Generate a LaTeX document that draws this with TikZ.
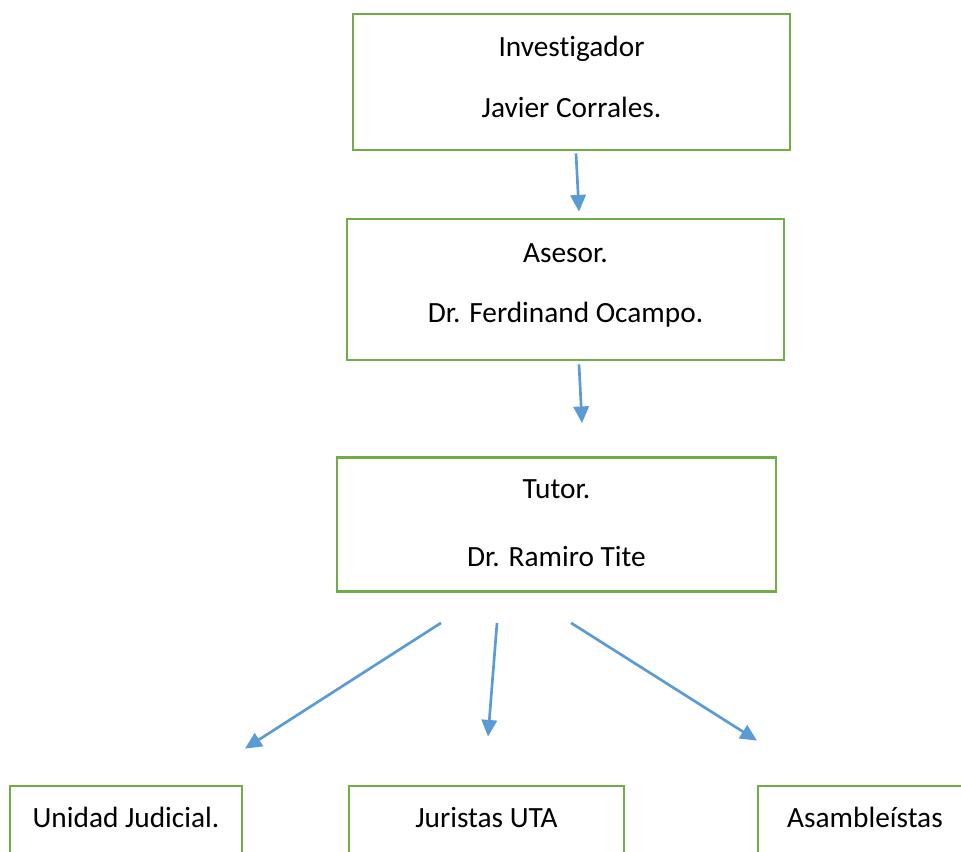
\documentclass[tikz,border=0pt]{standalone}
\usepackage{fontspec}
\setmainfont{Carlito}[Ligatures=NoCommon]
\usepackage{tikz}
\usetikzlibrary{arrows.meta, calc}

\definecolor{boxgreen}{RGB}{112,173,71}
\definecolor{arrowblue}{RGB}{91,155,213}

\begin{document}
\begin{tikzpicture}[
    x=0.75pt, y=-0.75pt,
    box/.style={rectangle, draw=boxgreen, line width=2.1pt, minimum width=327.75pt, minimum height=102pt, align=center, inner sep=0pt, font=\fontsize{22}{26}\selectfont},
    smallbox/.style={box, minimum height=102pt},
    arrow/.style={-{Triangle[length=12.5pt, width=11.5pt]}, draw=arrowblue, line width=2pt}
]
    \clip (0,0) rectangle (961,852);

    % chain of boxes
    \node[box] (inv) at (571.5,82) {Investigador\\[19.5pt]Javier Corrales.\rule[-7.5pt]{0pt}{7.5pt}};
    \node[box, minimum height=105.75pt] (ase) at (565.5,289.5) {Asesor.\\[19pt]Dr. Ferdinand Ocampo.\rule[-9pt]{0pt}{9pt}};
    \node[box, minimum width=329.25pt, minimum height=100.5pt] (tut) at (556.5,524.5) {Tutor.\\[25pt]Dr. Ramiro Tite\rule[-2pt]{0pt}{2pt}};

    % bottom row
    \node[smallbox, minimum width=174pt] (jud) at (126,854) {Unidad Judicial.\\[20.5pt]\strut};
    \node[smallbox, minimum width=206.25pt] (jur) at (486.5,854) {Juristas UTA\\[20.5pt]\strut};
    \node[smallbox, minimum width=160.5pt] (asa) at (865,854) {Asambleístas\\[20.5pt]\strut};

    % arrows
    \draw[arrow] ($(inv.south)+(4.5,2)$) -- ($(ase.north)+(13.5,-6)$);
    \draw[arrow] ($(ase.south)+(13.5,3)$) -- ($(tut.north)+(25.5,-33)$);
    \draw[arrow] ($(tut.south)+(-115.5,30)$) -- ($(jud.north)+(119,-36)$);
    \draw[arrow] ($(tut.south)+(-59.5,30)$) -- ($(jur.north)+(1.5,-48)$);
    \draw[arrow] ($(tut.south)+(14.5,30)$) -- ($(asa.north)+(-108,-44)$);
\end{tikzpicture}
\end{document}
